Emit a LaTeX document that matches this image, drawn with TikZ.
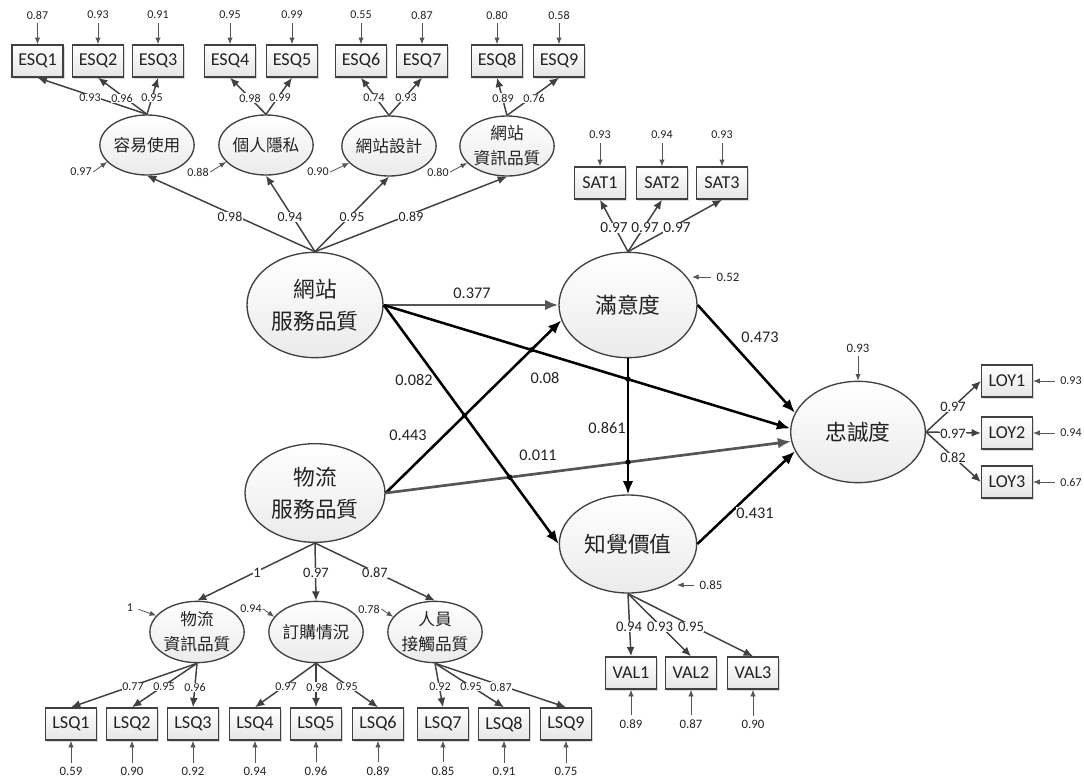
\documentclass[tikz,border=0pt]{standalone}
\usepackage{fontspec}
\setmainfont{Carlito}
\newfontfamily\cjk{Noto Sans CJK TC}
\usetikzlibrary{arrows.meta,shapes.geometric,shadows,intersections}
\definecolor{ln}{HTML}{404040}
\definecolor{gl}{HTML}{555555}
\definecolor{tx}{HTML}{222222}
\begin{document}
\begin{tikzpicture}[x=0.75pt,y=-0.75pt,
  every node/.style={text=tx},
  box/.style={draw=ln, line width=1.1pt, top color=white, bottom color=gray!20,
    minimum width=38pt, minimum height=24pt, inner sep=0pt,
    font=\fontsize{13.6}{15}\selectfont,
    drop shadow={shadow xshift=1.3pt, shadow yshift=-1.3pt, opacity=0.3}},
  lat/.style={ellipse, draw=ln, line width=1pt, top color=white, bottom color=gray!16,
    inner sep=0pt, align=center},
  smlat/.style={lat, minimum width=70pt, minimum height=45pt, font=\cjk\fontsize{12.5}{19}\selectfont},
  biglat/.style={lat, font=\cjk\fontsize{16.3}{24}\selectfont},
  ld/.style={draw=ln, line width=1.1pt, -{Latex[length=7pt,width=6pt]}},
  st/.style={draw=black, line width=1.9pt, -{Latex[length=10pt,width=8pt]}},
  stg/.style={st, draw=gl, line width=2pt},
  er/.style={draw=gl, line width=0.6pt, -{Latex[length=5pt,width=4pt]}},
  fA/.style={inner sep=1pt, font=\fontsize{9}{10}\selectfont},
  fB/.style={inner sep=1pt, font=\fontsize{9.6}{11}\selectfont},
  fC/.style={inner sep=1pt, font=\fontsize{10.4}{12}\selectfont},
  fD/.style={inner sep=1pt, font=\fontsize{10.8}{12}\selectfont},
  fE/.style={inner sep=0.5pt, font=\fontsize{11}{13}\selectfont},
  fS/.style={inner sep=0.5pt, font=\fontsize{11.5}{13}\selectfont},
  fF/.style={inner sep=1pt, font=\fontsize{12.2}{14}\selectfont},
  wf/.style={fill=white, inner sep=0.3pt},
  dot/.style={fill=black}
]
\useasboundingbox (0,0) rectangle (1084,778);

% ---------- latent variables ----------
\node[smlat] (e1) at (147,145) {容易使用};
\node[smlat] (e2) at (266,145) {個人隱私};
\node[smlat] (e3) at (389,146) {網站設計};
\node[smlat] (e4) at (507,146) {網站\\資訊品質};
\node[biglat, minimum width=102pt, minimum height=79pt] (ws) at (315,305) {網站\\服務品質};
\node[biglat, minimum width=103.5pt, minimum height=79pt] (sat) at (628,305) {滿意度};
\node[biglat, minimum width=103pt, minimum height=73.5pt] (pv) at (628,544) {知覺價值};
\node[biglat, minimum width=101pt, minimum height=76pt] (loy) at (858,432) {忠誠度};
\node[biglat, minimum width=105pt, minimum height=74pt] (ls) at (315,493) {物流\\服務品質};
\node[smlat, minimum width=69pt, minimum height=46pt] (l1) at (197,632) {物流\\資訊品質};
\node[smlat, minimum width=69pt, minimum height=46pt] (l2) at (316,632) {訂購情況};
\node[smlat, minimum width=69pt, minimum height=46pt] (l3) at (435,632) {人員\\接觸品質};

% ---------- ESQ boxes ----------
\foreach \n/\x/\ev in {1/37.5/0.87, 2/98/0.93, 3/158/0.91, 4/230/0.95, 5/292/0.99, 6/361/0.55, 7/422/0.87, 8/497/0.80, 9/559/0.58}{
  \node[box] (ESQ\n) at (\x,61) {ESQ\n};
  \node[fA] (eESQ\n) at (\x,15) {\ev};
  \draw[er, shorten <=2pt] (eESQ\n.south) -- (ESQ\n.north);
}
% ---------- SAT boxes ----------
\foreach \n/\x/\ev in {1/600/0.93, 2/662/0.94, 3/722/0.93}{
  \node[box] (SAT\n) at (\x,183) {SAT\n};
  \node[fA] (eSAT\n) at (\x,135) {\ev};
  \draw[er, shorten <=2pt] (eSAT\n.south) -- (SAT\n.north);
}
% ---------- LOY boxes ----------
\foreach \n/\y/\ev in {1/381/0.93, 2/433/0.94, 3/482/0.67}{
  \node[box] (LOY\n) at (1007,\y) {LOY\n};
  \node[fA] (eLOY\n) at (1071,\y) {\ev};
  \draw[er, shorten <=3pt] (eLOY\n.west) -- (LOY\n.east);
}
% ---------- VAL boxes ----------
\foreach \n/\x/\ev in {1/631/0.89, 2/691/0.87, 3/753/0.90}{
  \node[box] (VAL\n) at (\x,673) {VAL\n};
  \node[fB] (eVAL\n) at (\x,724) {\ev};
  \draw[er, shorten <=2pt] (eVAL\n.north) -- (VAL\n.south);
}
% ---------- LSQ boxes ----------
\foreach \n/\x/\ev in {1/71/0.59, 2/132/0.90, 3/193/0.92, 4/255/0.94, 5/316/0.96, 6/378/0.89, 7/443/0.85, 8/504/0.91, 9/566/0.75}{
  \node[box] (LSQ\n) at (\x,724) {LSQ\n};
  \node[fB] (eLSQ\n) at (\x,771) {\ev};
  \draw[er, shorten <=2pt] (eLSQ\n.north) -- (LSQ\n.south);
}

% ---------- measurement loadings ----------
\draw[ld] (e1.north) -- (ESQ1.south);
\draw[ld] (e1.north) -- (ESQ2.south);
\draw[ld] (e1.north) -- (ESQ3.south);
\draw[ld] (e2.north) -- (ESQ4.south);
\draw[ld] (e2.north) -- (ESQ5.south);
\draw[ld] (e3.north) -- (ESQ6.south);
\draw[ld] (e3.north) -- (ESQ7.south);
\draw[ld] (e4.north) -- (ESQ8.south);
\draw[ld] (e4.north) -- (ESQ9.south);
\foreach \x/\v in {90/0.93, 122/0.96, 152/0.95, 250/0.98, 280/0.99, 374/0.74, 406/0.93, 503/0.89, 534/0.76}
  \node[fA, wf] at (\x,98) {\v};

\draw[ld] (ws.north) -- (e1.south);
\draw[ld] (ws.north) -- (e2.south);
\draw[ld] (ws.north) -- (e3.south);
\draw[ld] (ws.north) -- (e4.south);
\foreach \x/\v in {230/0.98, 290/0.94, 352/0.95, 411/0.89}
  \node[fC, wf] at (\x,217) {\v};

% first-order errors (ESQ)
\node[fA] (ee1) at (81,172) {0.97};
\node[fA] (ee2) at (198,172) {0.88};
\node[fA] (ee3) at (318,172) {0.90};
\node[fA] (ee4) at (438,172) {0.80};
\draw[er] (ee1.east) -- (e1.203);
\draw[er] (ee2.east) -- (e2.203);
\draw[er] (ee3.east) -- (e3.203);
\draw[er] (ee4.east) -- (e4.203);

% SAT loadings
\draw[ld] (sat.north) -- (SAT1.south);
\draw[ld] (sat.north) -- (SAT2.south);
\draw[ld] (sat.north) -- (SAT3.south);
\foreach \x/\v in {614/0.97, 645/0.97, 677/0.97}
  \node[fS, wf] at (\x,228) {\v};
\node[fB] (esat) at (728,277) {0.52};
\coordinate (satE) at (692,277);
\draw[er, shorten <=3pt] (esat.west) -- (satE);

% LOY loadings
\draw[ld] (loy.east) -- (LOY1.west);
\draw[ld] (loy.east) -- (LOY2.west);
\draw[ld] (loy.east) -- (LOY3.west);
\node[fD, wf] at (953,407) {0.97};
\node[fD, wf] at (953,434) {0.97};
\node[fD, wf] at (953,458) {0.82};
\node[fB] (eloy) at (858,348) {0.93};
\draw[er, shorten <=2pt] (eloy.south) -- (loy.north);

% VAL loadings
\draw[ld] (pv.south) -- (VAL1.north);
\draw[ld] (pv.south) -- (VAL2.north);
\draw[ld] (pv.south) -- (VAL3.north);
\foreach \x/\v in {629/0.94, 660/0.93, 691/0.95}
  \node[fE, wf] at (\x,627) {\v};
\node[fB] (epv) at (711,585) {0.85};
\coordinate (pvE) at (677,585);
\draw[er, shorten <=3pt] (epv.west) -- (pvE);

% logistics second-order
\draw[ld] (ls.south) -- (l1.north);
\draw[ld] (ls.south) -- (l2.north);
\draw[ld] (ls.south) -- (l3.north);
\node[fD, wf] at (257,573) {1};
\node[fD, wf] at (316,573) {0.97};
\node[fD, wf] at (375,573) {0.87};
\node[fA] (el1) at (130,608) {1};
\node[fA] (el2) at (251,609) {0.94};
\node[fA] (el3) at (369,609) {0.78};
\draw[er, shorten <=3pt] (el1.east) -- (l1.158);
\draw[er] (el2.east) -- (l2.160);
\draw[er] (el3.east) -- (l3.160);

% LSQ loadings
\draw[ld] (l1.south) -- (LSQ1.north);
\draw[ld] (l1.south) -- (LSQ2.north);
\draw[ld] (l1.south) -- (LSQ3.north);
\draw[ld] (l2.south) -- (LSQ4.north);
\draw[ld] (l2.south) -- (LSQ5.north);
\draw[ld] (l2.south) -- (LSQ6.north);
\draw[ld] (l3.south) -- (LSQ7.north);
\draw[ld] (l3.south) -- (LSQ8.north);
\draw[ld] (l3.south) -- (LSQ9.north);
\foreach \x/\v in {133/0.77, 164/0.95, 195/0.96, 286/0.97, 317/0.98, 347/0.95, 440/0.92, 471/0.95, 501/0.87}
  \node[fA, wf] at (\x,687) {\v};

% ---------- structural paths ----------
\draw[stg] (ws.east) -- (sat.west);
\draw[st, name path=A] (ws.east) -- (loy.177);
\draw[st, name path=B] (ws.east) -- (pv.west);
\draw[st, name path=C] (ls.east) -- (sat.193);
\draw[stg, name path=D] (ls.east) -- (loy.188);
\draw[st, name path=E] (sat.south) -- (pv.north);
\draw[st] (sat.east) -- (loy.163);
\draw[st] (pv.east) -- (loy.197);

\path[name intersections={of=A and C, by=x1}];
\path[name intersections={of=B and C, by=x2}];
\path[name intersections={of=A and E, by=x3}];
\path[name intersections={of=B and D, by=x4}];
\path[name intersections={of=D and E, by=x5}];
\foreach \p in {x1,x2,x3,x4,x5} \fill[dot] (\p) circle (2pt);

\node[fF] at (472,293) {0.377};
\node[fF] at (545,378) {0.08};
\node[fF, wf] at (414,380) {0.082};
\node[fF] at (408,435) {0.443};
\node[fF] at (538,455) {0.011};
\node[fF] at (607,428) {0.861};
\node[fF] at (760,337) {0.473};
\node[fF, wf] at (755,513) {0.431};
\end{tikzpicture}
\end{document}
